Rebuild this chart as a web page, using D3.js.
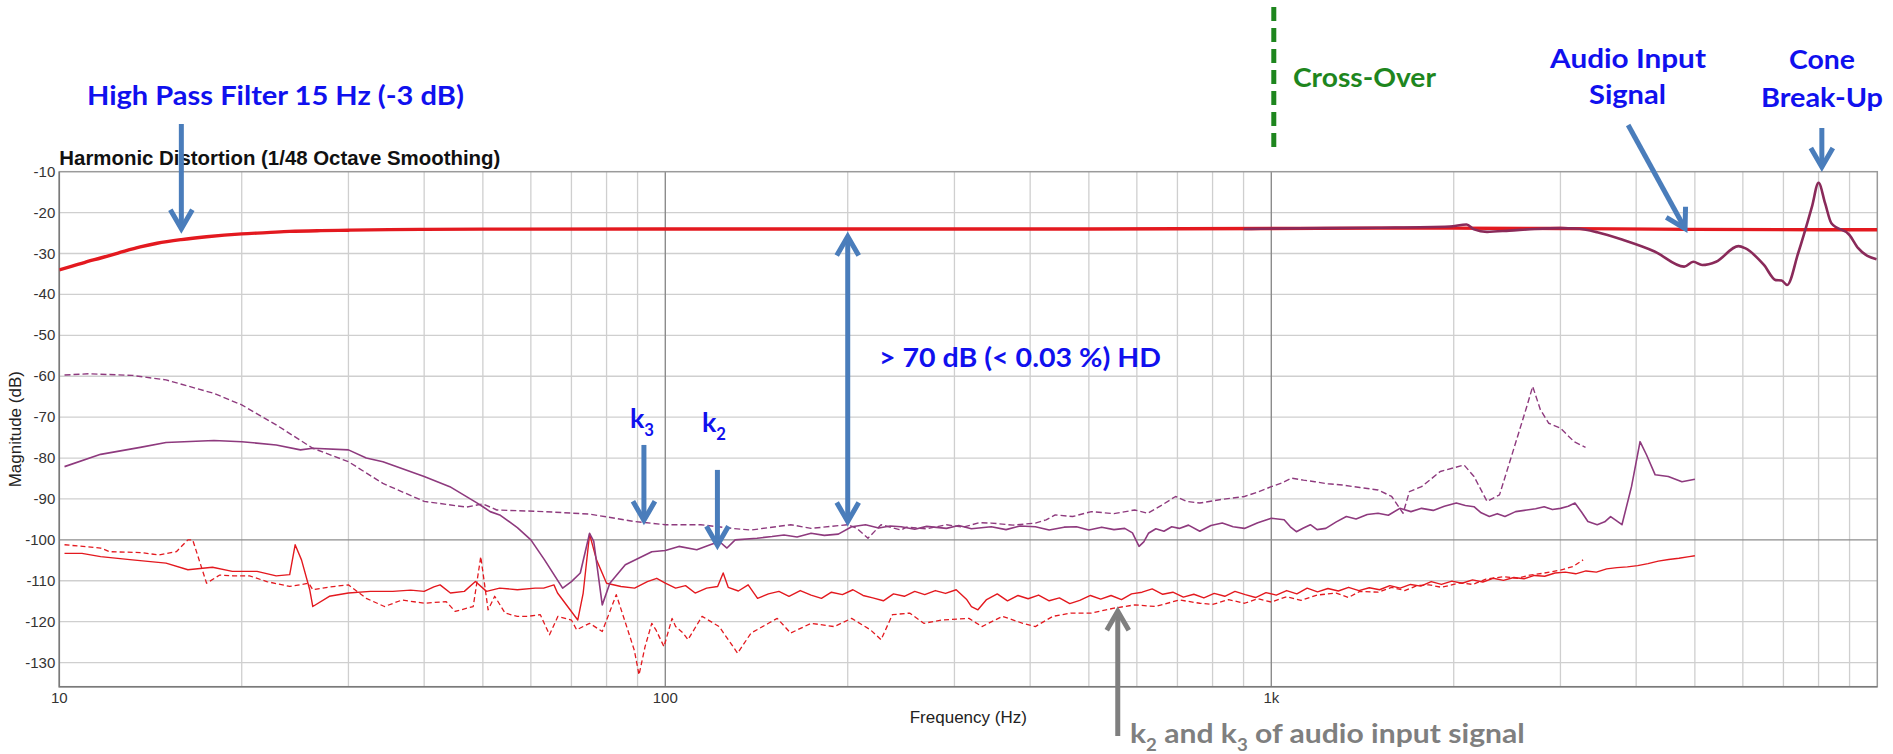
<!DOCTYPE html>
<html>
<head>
<meta charset="utf-8">
<script src="https://cdn.jsdelivr.net/npm/d3@7"></script>
<style>
  html, body { margin: 0; padding: 0; background: #fff; }
  svg { display: block; }
</style>
</head>
<body>
<svg id="chart" width="1893" height="754"></svg>
<script>
// ---- Data: [frequency (Hz), magnitude (dB)] ----

// Fundamental of the audio input signal (flat after the 15 Hz high pass)
const fundInput = [[10,-34],[10.5,-33.1],[11,-32.2],[11.7,-31.1],[12.5,-29.9],[13.6,-28.4],[14.5,-27.5],[15.9,-26.6],[17.5,-25.9],[20,-25.2],[22,-24.9],[24,-24.6],[27,-24.4],[30,-24.3],[35,-24.15],[40,-24.1],[50,-24.05],[100,-24],[200,-24],[500,-24],[1000,-23.9],[1500,-23.8],[2000,-23.8],[3000,-23.9],[5000,-24.1],[10000,-24.2]];

// Fundamental of the speaker output (deviates from the input above 3 kHz)
const fundOutput = [[900,-24],[1000,-23.9],[1500,-23.7],[1970,-23.4],[2100,-22.9],[2160,-24.1],[2270,-24.7],[2470,-24.4],[2720,-24],[3000,-23.8],[3180,-23.9],[3450,-24.8],[3810,-26.7],[4290,-29.5],[4800,-33.2],[4970,-32],[5140,-32.8],[5420,-32],[5900,-28.2],[6050,-28.7],[6500,-32.8],[6800,-36.5],[6950,-36.6],[7100,-37.7],[7400,-30],[7800,-18.6],[8000,-12.7],[8200,-17.7],[8400,-22.6],[9000,-25.5],[9300,-28.7],[9970,-31.4]];

// 2nd harmonic (k2) of the speaker output
const k2Output = [[10.2,-82.1],[11.7,-79.1],[13.6,-77.4],[15,-76.2],[18,-75.7],[20,-76],[22.8,-76.8],[25,-78],[26.2,-77.6],[30,-78],[32.1,-80],[34.2,-80.9],[40,-84.5],[44.1,-87],[48.8,-90.9],[50,-91.9],[51.4,-93.1],[53.3,-93.9],[57,-97],[60,-100],[63.2,-104.9],[67.7,-111.8],[70,-110.2],[72.4,-108.1],[75,-98.4],[76.2,-100.4],[78.7,-115.9],[81,-110.6],[85.9,-106.1],[95,-102.9],[100,-102.6],[105.3,-101.6],[112.7,-102.4],[118.6,-101.2],[122.8,-100.4],[126.4,-102],[130.4,-100],[141.7,-99.6],[150,-99.2],[157,-98.8],[165,-99.3],[174,-98.4],[183,-98.9],[193,-98.6],[203,-96.8],[214,-96.3],[225,-97.1],[235,-96.6],[245,-96.8],[258,-97.4],[270,-96.7],[291,-97.2],[305,-96.5],[320,-97.3],[345,-96.8],[365,-97.5],[385,-96.6],[408,-96.8],[430,-97.6],[455,-96.9],[477,-96.8],[500,-97.6],[525,-96.9],[550,-97.5],[573,-97.2],[590,-98.3],[605,-101.6],[616,-100.5],[627,-98.4],[645,-97.3],[665,-97.9],[685,-96.8],[705,-97.2],[730,-96.4],[762,-97.9],[795,-96.5],[830,-95.9],[865,-96.8],[903,-97.2],[950,-95.8],[1000,-94.7],[1050,-95.1],[1075,-96.8],[1100,-98],[1130,-97.1],[1160,-96.3],[1190,-97.5],[1230,-97.2],[1280,-95.6],[1330,-94.3],[1380,-94.9],[1440,-93.8],[1500,-93.5],[1560,-94],[1630,-92.3],[1700,-93.1],[1770,-92.3],[1850,-92.8],[1930,-91.8],[2020,-91],[2090,-91.6],[2160,-91.9],[2220,-93.4],[2290,-94.3],[2360,-93.6],[2430,-94.3],[2530,-93.1],[2640,-92.7],[2730,-92.4],[2820,-91.9],[2910,-92.6],[3000,-92.3],[3090,-91.8],[3170,-91],[3250,-93.2],[3330,-95.5],[3450,-96.3],[3550,-95.6],[3630,-94.3],[3700,-95.2],[3790,-96.3],[3930,-87],[4060,-76],[4160,-79.2],[4300,-84.1],[4520,-84.5],[4760,-85.8],[5000,-85.2]];

// 3rd harmonic (k3) of the speaker output
const k3Output = [[10.2,-59.7],[11.2,-59.4],[13.2,-59.8],[15,-60.9],[18,-64.2],[20,-67],[22.8,-71.9],[26.2,-77.6],[30,-80.9],[34.2,-86.2],[40,-90.6],[47,-92],[50,-91.2],[52.7,-92.7],[63.2,-93.1],[75,-93.7],[88.8,-95.5],[100,-96.3],[114.4,-96.3],[128.9,-97.2],[138.5,-97.6],[161,-96.3],[174,-97.2],[200,-96.3],[207,-97.2],[216,-99.6],[227,-96.3],[245,-97.6],[250,-96.9],[270,-97.3],[291,-96.3],[310,-96.9],[330,-95.8],[345,-95.9],[375,-96.4],[408,-95.9],[425,-95.1],[440,-93.9],[470,-94.3],[505,-93.1],[550,-93.6],[595,-92.7],[625,-93.5],[660,-91.5],[695,-89.4],[725,-90.6],[762,-91],[830,-90.1],[903,-89.4],[950,-88.3],[1000,-87],[1040,-86.1],[1080,-84.9],[1130,-85.4],[1180,-85.8],[1240,-86.3],[1310,-86.6],[1400,-87.2],[1500,-87.8],[1580,-89.4],[1650,-93.5],[1690,-88.2],[1770,-87],[1900,-83.3],[2080,-81.7],[2160,-84.5],[2270,-90.6],[2380,-89],[2500,-78.8],[2640,-67.4],[2700,-62.5],[2780,-68.2],[2870,-71.5],[3000,-72.7],[3160,-76],[3300,-77.4]];

// 2nd harmonic (k2) of the audio input signal
const k2Input = [[10.2,-103.3],[10.9,-103.3],[11.7,-104.1],[13.2,-104.9],[15,-105.7],[16.3,-107.3],[17.9,-106.7],[19.3,-107.7],[21.2,-107.7],[22.8,-108.8],[24,-108.5],[24.5,-101.2],[25.1,-104.9],[25.9,-112.2],[26.2,-116.3],[27.9,-113.8],[30,-113],[32.6,-112.6],[35.5,-112.6],[38,-112.3],[40,-112.6],[41.5,-111.5],[42.5,-111],[44.2,-113],[46.6,-112.6],[48.6,-110.2],[50.7,-112.6],[53.3,-111.8],[57,-112.2],[61,-111.8],[63,-111.8],[65.5,-111],[66.4,-113],[69,-116.3],[71.7,-119.6],[73.2,-113],[75,-98.6],[77,-104.9],[80,-110.6],[84.5,-111.4],[89,-111.8],[93.4,-110.2],[96.8,-109.4],[100,-110.6],[104,-111.8],[108,-111.2],[112,-113],[117,-111.8],[122,-111.4],[124.6,-108.1],[127,-111.6],[132,-112.5],[137,-111],[142,-114.3],[148,-113.2],[154,-112.6],[160,-113.8],[167,-112.4],[174,-113.5],[181,-114.3],[188,-112.8],[196,-113.4],[204,-112.2],[212,-113.6],[220,-114.2],[229,-114.9],[238,-113.2],[248,-113.8],[258,-112.6],[268,-113.4],[279,-112.4],[290,-113.1],[302,-112.2],[314,-114.5],[320,-116.3],[328,-117.1],[339,-114.6],[353,-113.2],[367,-114.9],[382,-113.6],[397,-114.4],[413,-113.5],[430,-114.9],[447,-114.2],[465,-115.6],[483,-114.8],[503,-113.6],[523,-114.5],[544,-113.6],[566,-114.6],[588,-113.2],[612,-112.8],[636,-112],[662,-113.3],[688,-112.8],[716,-114],[745,-113.3],[774,-114.2],[805,-113.1],[838,-113.8],[871,-112.6],[906,-113.4],[942,-114.1],[980,-112.9],[1019,-113.5],[1060,-112.4],[1102,-113.2],[1146,-111.8],[1192,-112.7],[1240,-111.9],[1290,-112.5],[1341,-111.6],[1395,-112.4],[1451,-111.7],[1509,-112.2],[1569,-111.2],[1632,-111.8],[1697,-110.9],[1765,-111.3],[1836,-110.2],[1909,-110.9],[1986,-110.1],[2065,-110.6],[2148,-109.8],[2234,-110.3],[2323,-109.4],[2416,-109.9],[2513,-109.2],[2613,-109.5],[2718,-108.7],[2826,-108.9],[2939,-108.1],[3057,-107.9],[3179,-108.3],[3306,-107.6],[3439,-107.9],[3576,-107.1],[3719,-106.8],[3868,-106.6],[4023,-106.3],[4184,-105.8],[4351,-105.2],[4525,-104.8],[4706,-104.5],[4894,-104.1],[5000,-103.9]];

// 3rd harmonic (k3) of the audio input signal
const k3Input = [[10.2,-101.2],[11.7,-102],[12.1,-102.9],[13.6,-103.1],[14.6,-103.7],[15.6,-102.9],[16.3,-100],[16.6,-100],[17.5,-110.6],[18.4,-108.6],[19.4,-108.8],[20.6,-108.8],[22,-110.2],[24,-111.4],[25.8,-110.6],[26.2,-112.2],[28,-111.5],[30,-111],[32.1,-114.3],[34.4,-116.3],[36.8,-114.7],[40,-115.5],[43.5,-115.1],[45,-117.5],[48.2,-116.3],[49.6,-104.1],[51,-117.1],[52.3,-113.8],[54.4,-117.9],[57,-118.7],[59.2,-118.7],[62.2,-118.3],[64.4,-123.2],[66.5,-118.7],[70,-119.6],[71.4,-122],[75,-120.4],[78.7,-122.4],[83,-113.4],[86,-120.4],[88.9,-127],[90.5,-133],[92.6,-126.1],[95,-120.4],[96.5,-122],[99.5,-126.1],[102.6,-119.2],[104,-121.2],[107,-122.8],[109,-124.4],[115,-118.7],[122.7,-121.2],[131.6,-127.7],[138.5,-122.8],[148,-120.4],[153,-119.2],[161,-122.8],[174,-120.4],[190,-121.2],[203,-119.2],[218,-122],[227,-124.4],[237,-118.3],[253,-117.9],[267,-120.4],[286,-119.6],[317,-119.2],[333,-121.2],[360,-118.7],[389,-120.4],[408,-121.2],[436,-118.7],[467,-117.9],[505,-117.9],[550,-116.7],[595,-115.9],[644,-116.3],[705,-114.7],[762,-115.5],[800,-115.8],[850,-114.6],[903,-115.5],[950,-114.4],[1000,-115.2],[1060,-113.9],[1120,-114.8],[1190,-113.5],[1280,-113],[1340,-114.1],[1400,-112.6],[1500,-112.8],[1580,-111.6],[1660,-112.4],[1740,-111.2],[1820,-111],[1910,-111.6],[2050,-110.5],[2150,-110.9],[2260,-109.6],[2420,-109],[2550,-109.4],[2670,-108.6],[2800,-108.2],[3000,-107.4],[3150,-106.5],[3270,-104.9]];

// Axis ticks
const yTicks = [-10,-20,-30,-40,-50,-60,-70,-80,-90,-100,-110,-120,-130];
const xTickLabels = [[10,"10"],[100,"100"],[1000,"1k"]];
const minorFreqs = [20,30,40,50,60,70,80,90,200,300,400,500,600,700,800,900,2000,3000,4000,5000,6000,7000,8000,9000];
const majorFreqs = [100,1000];

// ---- Layout ----
const svg = d3.select("#chart");
const plot = { left: 59.3, right: 1877.3, top: 171.7, bottom: 686.7 };

const x = d3.scaleLog().domain([10, 10000]).range([plot.left, plot.right]);
const y = d3.scaleLinear().domain([-10, -135.9]).range([plot.top, plot.bottom]);

const RED = "#e3191f";
const PURPLE = "#8e3a7e";
const PURPLE_FUND = "#8a2a5a";
const BLUE_TXT = "#1010ee";
const ARROW_BLUE = "#4a7dbb";
const GREEN = "#1e861e";
const GRAY = "#7f7f7f";

svg.append("defs").append("clipPath").attr("id", "plotClip")
  .append("rect")
  .attr("x", plot.left).attr("y", plot.top)
  .attr("width", plot.right - plot.left).attr("height", plot.bottom - plot.top);

// ---- Grid ----
const grid = svg.append("g");
grid.selectAll("line.hminor").data(yTicks.filter(d => d !== -10 && d !== -100))
  .join("line")
  .attr("x1", plot.left).attr("x2", plot.right)
  .attr("y1", d => y(d)).attr("y2", d => y(d))
  .attr("stroke", "#cfcfcf").attr("stroke-width", 1.3);
grid.selectAll("line.vminor").data(minorFreqs)
  .join("line")
  .attr("x1", d => x(d)).attr("x2", d => x(d))
  .attr("y1", plot.top).attr("y2", plot.bottom)
  .attr("stroke", "#cfcfcf").attr("stroke-width", 1.3);
grid.selectAll("line.vmajor").data(majorFreqs)
  .join("line")
  .attr("x1", d => x(d)).attr("x2", d => x(d))
  .attr("y1", plot.top).attr("y2", plot.bottom)
  .attr("stroke", "#8c8c8c").attr("stroke-width", 1.4);
grid.append("line")
  .attr("x1", plot.left).attr("x2", plot.right)
  .attr("y1", y(-100)).attr("y2", y(-100))
  .attr("stroke", "#8c8c8c").attr("stroke-width", 1.4);

// Frame
svg.append("rect")
  .attr("x", plot.left).attr("y", plot.top)
  .attr("width", plot.right - plot.left).attr("height", plot.bottom - plot.top)
  .attr("fill", "none").attr("stroke", "#9a9a9a").attr("stroke-width", 1.5);
svg.append("path")
  .attr("d", `M${plot.left},${plot.top}V${plot.bottom}H${plot.right}`)
  .attr("fill", "none").attr("stroke", "#7a7a7a").attr("stroke-width", 1.5);

// ---- Axes labels ----
const axisFont = "'Liberation Sans', Arial, Helvetica, sans-serif";
svg.append("g").selectAll("text").data(yTicks).join("text")
  .attr("x", plot.left - 4).attr("y", d => y(d) + 5)
  .attr("text-anchor", "end")
  .attr("font-family", axisFont).attr("font-size", 15)
  .attr("fill", "#333").text(d => d);

svg.append("g").selectAll("text").data(xTickLabels).join("text")
  .attr("x", d => x(d[0])).attr("y", plot.bottom + 16)
  .attr("text-anchor", "middle")
  .attr("font-family", axisFont).attr("font-size", 15)
  .attr("fill", "#333").text(d => d[1]);

svg.append("text")
  .attr("x", (plot.left + plot.right) / 2).attr("y", plot.bottom + 36)
  .attr("text-anchor", "middle")
  .attr("font-family", axisFont).attr("font-size", 17)
  .attr("fill", "#222").text("Frequency (Hz)");

svg.append("text")
  .attr("transform", `translate(21,${(plot.top + plot.bottom) / 2}) rotate(-90)`)
  .attr("text-anchor", "middle")
  .attr("font-family", axisFont).attr("font-size", 17)
  .attr("fill", "#222").text("Magnitude (dB)");

svg.append("text")
  .attr("x", plot.left).attr("y", plot.top - 7)
  .attr("font-family", axisFont).attr("font-size", 20).attr("font-weight", "bold")
  .attr("fill", "#111")
  .attr("textLength", 441).attr("lengthAdjust", "spacingAndGlyphs")
  .text("Harmonic Distortion (1/48 Octave Smoothing)");

// ---- Curves ----
const lineSmooth = d3.line().x(d => x(d[0])).y(d => y(d[1])).curve(d3.curveMonotoneX);
const lineRaw = d3.line().x(d => x(d[0])).y(d => y(d[1]));
const curves = svg.append("g").attr("clip-path", "url(#plotClip)");

function drawCurve(data, gen, color, width, dash) {
  curves.append("path").datum(data)
    .attr("d", gen)
    .attr("fill", "none")
    .attr("stroke", color)
    .attr("stroke-width", width)
    .attr("stroke-linejoin", "round")
    .attr("stroke-dasharray", dash || null);
}

drawCurve(k3Input, lineRaw, RED, 1.3, "5,3");
drawCurve(k2Input, lineRaw, RED, 1.4);
drawCurve(k3Output, lineRaw, PURPLE, 1.4, "6,3");
drawCurve(k2Output, lineRaw, PURPLE, 1.6);
drawCurve(fundInput, lineSmooth, RED, 3.4);
drawCurve(fundOutput, lineSmooth, PURPLE_FUND, 2.6);

// ---- Annotations ----
const annFont = "Lato, 'Open Sans', sans-serif";

// Text scaled horizontally so it spans [x0, x1]
function label(str, x0, x1, base, color, size) {
  const g = svg.append("g");
  const t = g.append("text")
    .attr("x", 0).attr("y", 0)
    .attr("font-family", annFont).attr("font-weight", 700)
    .attr("font-size", size || 27).attr("fill", color)
    .text(str);
  const bb = t.node().getBBox();
  const sx = (x1 - x0) / bb.width;
  g.attr("transform", `translate(${x0},${base}) scale(${sx},1) translate(${-bb.x},0)`);
  return g;
}

// Label with a subscript, e.g. k3
function subLabel(parts, x0, x1, base, color, size) {
  const g = svg.append("g");
  const t = g.append("text")
    .attr("x", 0).attr("y", 0)
    .attr("font-family", annFont).attr("font-weight", 700)
    .attr("font-size", size || 27).attr("fill", color);
  parts.forEach(p => {
    if (p.sub) {
      t.append("tspan").attr("font-size", (size || 27) * 0.62).attr("dy", 8).text(p.t);
    } else {
      t.append("tspan").attr("dy", p.after ? -8 : 0).text(p.t);
    }
  });
  const bb = t.node().getBBox();
  const sx = (x1 - x0) / bb.width;
  g.attr("transform", `translate(${x0},${base}) scale(${sx},1) translate(${-bb.x},0)`);
  return g;
}

// Straight arrow with an open V head at the end (and optionally at the start)
function arrow(x1, y1, x2, y2, color, width, both) {
  const g = svg.append("g");
  const dx = x2 - x1, dy = y2 - y1, len = Math.hypot(dx, dy);
  const ux = dx / len, uy = dy / len, nx = -uy, ny = ux;
  const L = 19, W = 11;
  const inset = 2.5;
  const sx = both ? x1 + ux * inset : x1, sy = both ? y1 + uy * inset : y1;
  g.append("line")
    .attr("x1", sx).attr("y1", sy)
    .attr("x2", x2 - ux * inset).attr("y2", y2 - uy * inset)
    .attr("stroke", color).attr("stroke-width", width);
  const head = (tx, ty, dirx, diry) => {
    g.append("path")
      .attr("d", `M${tx - dirx * L + nx * W},${ty - diry * L + ny * W}L${tx},${ty}L${tx - dirx * L - nx * W},${ty - diry * L - ny * W}`)
      .attr("fill", "none").attr("stroke", color).attr("stroke-width", width)
      .attr("stroke-linejoin", "miter").attr("stroke-miterlimit", 10);
  };
  head(x2 - ux * 1.5, y2 - uy * 1.5, ux, uy);
  if (both) head(x1 + ux * 1.5, y1 + uy * 1.5, -ux, -uy);
}

// Cross-over marker at 1 kHz
svg.append("line")
  .attr("x1", x(1000) + 2.5).attr("x2", x(1000) + 2.5)
  .attr("y1", 7).attr("y2", 150)
  .attr("stroke", GREEN).attr("stroke-width", 5)
  .attr("stroke-dasharray", "14,7");
label("Cross-Over", 1293, 1436, 87, GREEN);

// High pass filter
label("High Pass Filter 15 Hz (-3 dB)", 87, 464, 105, BLUE_TXT);
arrow(x(15.9), 124, x(15.9), y(-24.3), ARROW_BLUE, 5);

// Headroom between fundamental and harmonics
arrow(x(200), y(-95.9), x(200), y(-25.5), ARROW_BLUE, 5, true);
label("> 70 dB (< 0.03 %) HD", 879, 1161, 367, BLUE_TXT);

// k3 / k2 markers
subLabel([{t: "k"}, {t: "3", sub: true}], 630, 654, 428, BLUE_TXT);
arrow(x(92.2), y(-76.8), x(92.2), y(-95.6), ARROW_BLUE, 5);
subLabel([{t: "k"}, {t: "2", sub: true}], 702, 726, 432, BLUE_TXT);
arrow(x(121.9), y(-82.9), x(121.9), y(-101.7), ARROW_BLUE, 5);

// Audio input signal
label("Audio Input", 1549, 1706, 68, BLUE_TXT);
label("Signal", 1589, 1666, 104, BLUE_TXT);
arrow(x(3880), 125, x(4830), y(-24.25), ARROW_BLUE, 5);

// Cone break-up
label("Cone", 1789, 1855, 69, BLUE_TXT);
label("Break-Up", 1761, 1883, 107, BLUE_TXT);
arrow(x(8100), 128, x(8100), y(-9.2), ARROW_BLUE, 5);

// Harmonics of the input signal
arrow(x(558), 736, x(558), y(-117.1), GRAY, 5);
subLabel([{t: "k"}, {t: "2", sub: true}, {t: " and k", after: true}, {t: "3", sub: true}, {t: " of audio input signal", after: true}], 1130, 1525, 743, GRAY);
</script>
</body>
</html>
